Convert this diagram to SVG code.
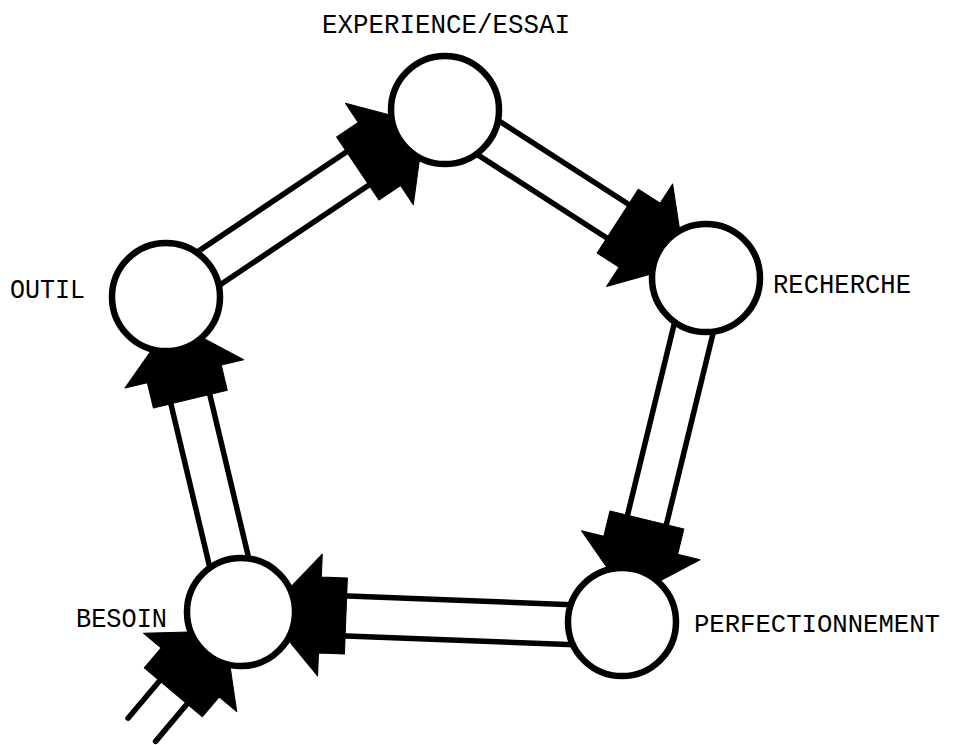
<svg xmlns="http://www.w3.org/2000/svg" xmlns:xlink="http://www.w3.org/1999/xlink" width="953" height="745" viewBox="0 0 953 745">
  <style>
    .bg { fill: #ffffff; }
    .node circle { fill: #ffffff; stroke: #000000; stroke-width: 6.5; }
    .label { font-family: "Liberation Mono", "DejaVu Sans Mono", monospace; font-size: 28px; fill: #000000; }
    .rail { stroke: #000000; stroke-width: 5.5; fill: none; stroke-linecap: round; }
    .head { fill: #000000; stroke: #000000; stroke-width: 1; stroke-linejoin: round; }
  </style>
  <defs>
    <polygon id="ah" class="head" points="25,0 79,-61 79,-38 105,-38 105,38 79,38 79,61"/>
  </defs>
  <rect class="bg" x="0" y="0" width="953" height="745"/>

  <g id="connectors">
    <!-- OUTIL -> EXPERIENCE/ESSAI -->
    <g transform="translate(445,110) rotate(146.17)">
      <line class="rail" x1="100" y1="-20" x2="336" y2="-20"/>
      <line class="rail" x1="100" y1="20" x2="336" y2="20"/>
      <use xlink:href="#ah" href="#ah"/>
    </g>
    <!-- EXPERIENCE/ESSAI -> RECHERCHE -->
    <g transform="translate(706,278) rotate(-147.23)">
      <line class="rail" x1="100" y1="-20" x2="310" y2="-20"/>
      <line class="rail" x1="100" y1="20" x2="310" y2="20"/>
      <use xlink:href="#ah" href="#ah"/>
    </g>
    <!-- RECHERCHE -> PERFECTIONNEMENT -->
    <g transform="translate(622,622) rotate(-76.28)">
      <line class="rail" x1="100" y1="-20" x2="354" y2="-20"/>
      <line class="rail" x1="100" y1="20" x2="354" y2="20"/>
      <use xlink:href="#ah" href="#ah"/>
    </g>
    <!-- PERFECTIONNEMENT -> BESOIN -->
    <g transform="translate(241,612) rotate(2.2)">
      <line class="rail" x1="100" y1="-20" x2="381" y2="-20"/>
      <line class="rail" x1="100" y1="20" x2="381" y2="20"/>
      <use xlink:href="#ah" href="#ah"/>
    </g>
    <!-- BESOIN -> OUTIL -->
    <g transform="translate(166,297) rotate(76.61)">
      <line class="rail" x1="100" y1="-20" x2="324" y2="-20"/>
      <line class="rail" x1="100" y1="20" x2="324" y2="20"/>
      <use xlink:href="#ah" href="#ah"/>
    </g>
    <!-- incoming -> BESOIN -->
    <g transform="translate(241,612) rotate(130.1)">
      <line class="rail" x1="100" y1="-18" x2="154" y2="-18"/>
      <line class="rail" x1="100" y1="18" x2="154" y2="18"/>
      <use xlink:href="#ah" href="#ah"/>
    </g>
  </g>

  <g id="node-experience" class="node">
    <circle cx="445" cy="110" r="54"/>
    <text class="label" x="322" y="33" textLength="248" lengthAdjust="spacingAndGlyphs">EXPERIENCE/ESSAI</text>
  </g>
  <g id="node-recherche" class="node">
    <circle cx="706" cy="278" r="54"/>
    <text class="label" x="773" y="293" textLength="138" lengthAdjust="spacingAndGlyphs">RECHERCHE</text>
  </g>
  <g id="node-perfectionnement" class="node">
    <circle cx="622" cy="622" r="54"/>
    <text class="label" x="694" y="632" font-size="26.5" style="font-size:26.5px" textLength="246" lengthAdjust="spacingAndGlyphs">PERFECTIONNEMENT</text>
  </g>
  <g id="node-besoin" class="node">
    <circle cx="241" cy="612" r="54"/>
    <text class="label" x="76" y="627" textLength="91" lengthAdjust="spacingAndGlyphs">BESOIN</text>
  </g>
  <g id="node-outil" class="node">
    <circle cx="166" cy="297" r="54"/>
    <text class="label" x="10" y="298" textLength="75" lengthAdjust="spacingAndGlyphs">OUTIL</text>
  </g>
</svg>
